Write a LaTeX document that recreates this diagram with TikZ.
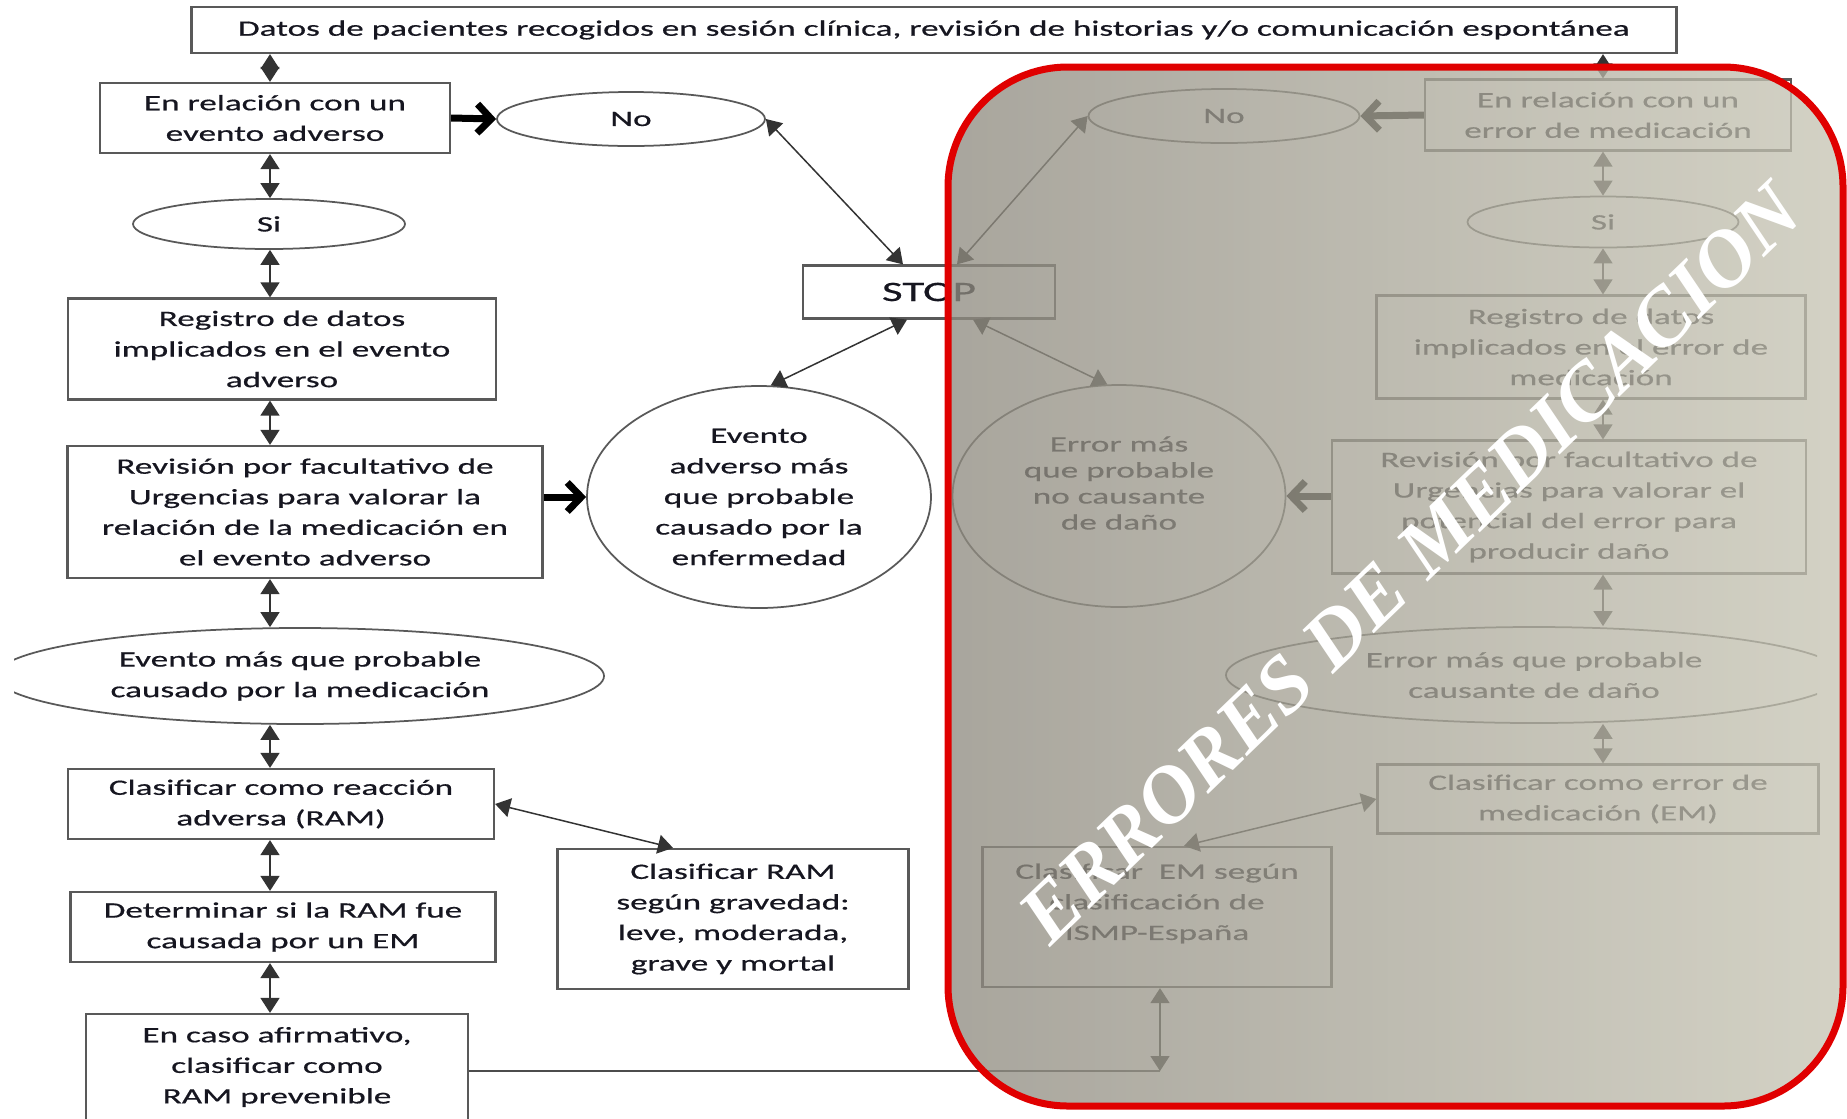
\documentclass[tikz,border=0pt]{standalone}
\usepackage{fontspec}
\setmainfont[FakeStretch=1.6, FakeBold=0.6]{Carlito}
\newfontfamily\markfont{Liberation Serif}
\usetikzlibrary{shapes.geometric,arrows.meta}
\definecolor{veilleft}{RGB}{143,139,128}
\definecolor{veilright}{RGB}{199,197,180}
\definecolor{framered}{RGB}{224,0,0}
\definecolor{inkdark}{RGB}{22,22,32}

\begin{document}
\begin{tikzpicture}[x=0.2mm, y=-0.2mm,
    every node/.style={font=\fontsize{12.5pt}{17.4pt}\selectfont, text=inkdark, align=center},
    box/.style={draw=black!65, line width=0.45mm, rectangle},
    oval/.style={draw=black!65, line width=0.35mm, ellipse, inner sep=0pt},
    link/.style={draw=black!80, line width=0.3mm, >={Triangle[length=3mm,width=3.8mm]}, <->},
    bigarrow/.style={draw=black, line width=1.4mm, -{Straight Barb[length=2.8mm,width=5.8mm]}}]
            \useasboundingbox (0,0) rectangle (1847,1118);
            \clip (0,0) rectangle (1847,1118);
            \fill[white] (0,0) rectangle (1847,1118);
            \coordinate (colL) at (270,0);
            \coordinate (colR) at (1603,0);
            \coordinate (corner) at (1160,1071);

            % top
            \node[box, minimum width=297mm, minimum height=9.2mm] (top) at (934,30) {Datos de pacientes recogidos en sesión clínica, revisión de historias y/o comunicación espontánea};

            % evento adverso
            \node[box, minimum width=70mm, minimum height=14mm] (relEA) at (275,118) {En relación con un\\evento adverso};
            \node[oval, minimum width=53.6mm, minimum height=10.8mm] (noL) at (631,119) {No};
            \node[oval, minimum width=54.4mm, minimum height=10mm] (siL) at (269,224) {Si};
            \node[box, minimum width=85.6mm, minimum height=20.2mm] (regL) at (282,349) {Registro de datos\\implicados en el evento\\adverso};
            \node[box, minimum width=95mm, minimum height=26.4mm] (revL) at (305,512) {Revisión por facultativo de\\Urgencias para valorar la\\relación de la medicación en\\el evento adverso};
            \node[oval, minimum width=68.8mm, minimum height=44.4mm] (evento) at (759,497) {Evento\\adverso más\\que probable\\causado por la\\enfermedad};
            \begin{scope}
                \clip (14,600) rectangle (700,750);
                \node[oval, minimum width=121.6mm, minimum height=19.2mm] (eventoMed) at (300,676) {Evento más que probable\\causado por la medicación};
            \end{scope}
            \node[box, minimum width=85.2mm, minimum height=14mm] (clasRAM) at (281,804) {Clasificar como reacción\\adversa (RAM)};
            \node[box, minimum width=85mm, minimum height=14mm] (detRAM) at (283,927) {Determinar si la RAM fue\\causada por un EM};
            \node[box, minimum width=76.4mm, minimum height=21.2mm] (casoRAM) at (277,1067) {En caso afirmativo,\\clasificar como\\RAM prevenible};
            \node[box, minimum width=70.2mm, minimum height=28mm] (gravRAM) at (733,919) {Clasificar RAM\\según gravedad:\\leve, moderada,\\grave y mortal};
            \node[box, minimum width=50.4mm, minimum height=10.6mm, font=\fontsize{16pt}{18pt}\selectfont] (stop) at (929,292) {STOP};

            % error de medicacion
            \node[box, minimum width=73.2mm, minimum height=14.2mm] (relEM) at (1608,115) {En relación con un\\error de medicación};
            \node[oval, minimum width=54.2mm, minimum height=10.8mm] (noR) at (1224,116) {No};
            \node[oval, minimum width=54.2mm, minimum height=10.2mm] (siR) at (1603,222) {Si};
            \node[box, minimum width=85.8mm, minimum height=20.6mm] (regR) at (1591,347) {Registro de datos\\implicados en el error de\\medicación};
            \node[box, minimum width=94.8mm, minimum height=26.6mm] (revR) at (1569,507) {Revisión por facultativo de\\Urgencias para valorar el\\potencial del error para\\producir daño};
            \node[oval, minimum width=66.6mm, minimum height=44.4mm, font=\fontsize{12.5pt}{14.8pt}\selectfont] (errCirc) at (1119,496) {Error más\\que probable\\no causante\\de daño\\\mbox{}};
            \begin{scope}
                \clip (1150,600) rectangle (1817,750);
                \node[oval, minimum width=123.2mm, minimum height=19.2mm] (errDano) at (1534,675) {Error más que probable\\causante de daño};
            \end{scope}
            \node[box, minimum width=88.2mm, minimum height=13.8mm] (clasEM) at (1598,799) {Clasificar como error de\\medicación (EM)};
            \node[box, minimum width=69.8mm, minimum height=28mm] (ismp) at (1157,917) {Clasificar\ \ EM según\\clasificación de\\ISMP-España\\\mbox{}};

            % left column arrows
            \draw[link] (top.south -| colL) -- (relEA.north -| colL);
            \draw[link] (relEA.south -| colL) -- (siL.north -| colL);
            \draw[link] (siL.south -| colL) -- (regL.north -| colL);
            \draw[link] (regL.south -| colL) -- (revL.north -| colL);
            \draw[link] (revL.south -| colL) -- (eventoMed.north -| colL);
            \draw[link] (eventoMed.south -| colL) -- (clasRAM.north -| colL);
            \draw[link] (clasRAM.south -| colL) -- (detRAM.north -| colL);
            \draw[link] (detRAM.south -| colL) -- (casoRAM.north -| colL);

            % right column arrows
            \draw[link] (top.south -| colR) -- (relEM.north -| colR);
            \draw[link] (relEM.south -| colR) -- (siR.north -| colR);
            \draw[link] (siR.south -| colR) -- (regR.north -| colR);
            \draw[link] (regR.south -| colR) -- (revR.north -| colR);
            \draw[link] (revR.south -| colR) -- (errDano.north -| colR);
            \draw[link] (errDano.south -| colR) -- (clasEM.north -| colR);

            % STOP and side links
            \draw[link] (noL.east) -- ([xshift=-5.2mm]stop.north);
            \draw[link] ([xshift=-4.4mm]stop.south) -- (evento.84);
            \draw[link] (noR.west) -- ([xshift=5.6mm]stop.north);
            \draw[link] ([xshift=8.8mm]stop.south) -- (errCirc.96);
            \draw[link] (clasRAM.east) -- ([xshift=-12mm]gravRAM.north);
            \draw[link] (clasEM.west) -- ([xshift=5.4mm]ismp.north);
            \draw[draw=black!70, line width=0.4mm] (casoRAM.east |- corner) -- (corner);
            \draw[link] (ismp.south -| corner) -- (corner);

            \draw[bigarrow] (relEA.east) -- (noL.west);
            \draw[bigarrow] (relEM.west) -- (noR.east);
            \draw[bigarrow] (revL.east |- evento.west) -- (evento.west);
            \draw[bigarrow] (revR.west |- errCirc.east) -- (errCirc.east);

            % veil over the medication errors
            \shade[left color=veilleft, right color=veilright, fill opacity=0.77, rounded corners=24mm] (948,67) rectangle (1843,1106);
            \draw[framered, line width=1.4mm, rounded corners=24mm] (948,67) rectangle (1843,1106);
            \node[rotate=44, text=white, font=\markfont\bfseries\itshape\fontsize{46pt}{46pt}\selectfont] (mark) at (1410,563) {ERRORES DE MEDICACION};
        \end{tikzpicture}
\end{document}
